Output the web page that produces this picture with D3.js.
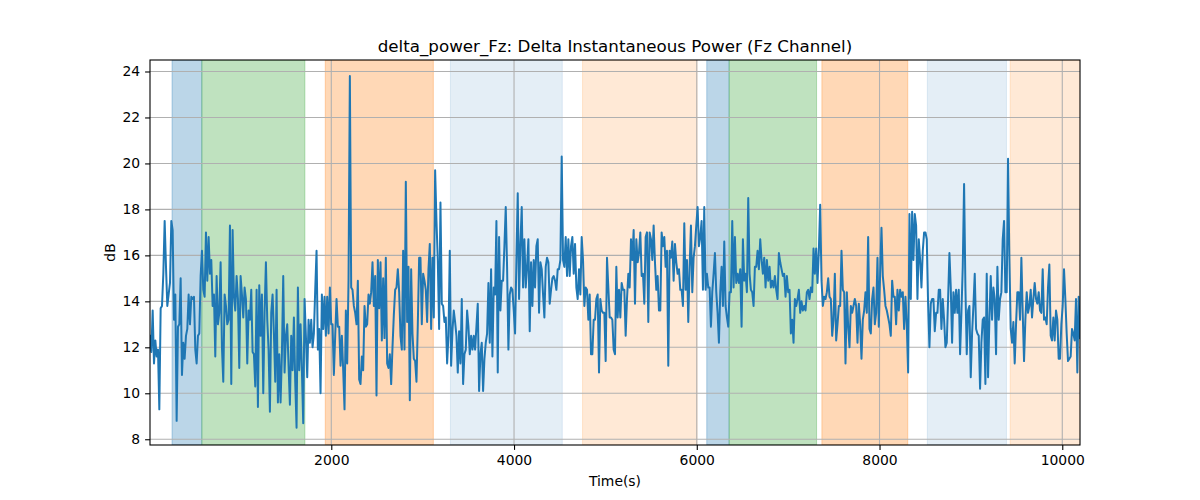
<!DOCTYPE html>
<html>
<head>
<meta charset="utf-8">
<script src="https://cdn.jsdelivr.net/npm/d3@7"></script>
<style>
  body { margin: 0; background: #fff; }
  svg text { font-family: "DejaVu Sans", sans-serif; fill: #000; }
</style>
</head>
<body>
<script>
// chart data
var titleText = "delta_power_Fz: Delta Instantaneous Power (Fz Channel)";
var xLabel = "Time(s)";
var yLabel = "dB";

// time range covered by the samples (evenly spaced)
var tStart = 16, tEnd = 10194;

// dB values, left to right
var dbValues = [
  12.5, 11.8, 13.6, 11.3, 12.3, 11.6, 11.9, 9.3, 13.7, 13.8,
  15.2, 17.5, 15.5, 13.8, 14.3, 14.8, 17.5, 17.1, 13.2, 14.3,
  8.8, 12.9, 13.0, 15.0, 10.8, 12.2, 11.5, 12.5, 12.8, 14.3,
  13.0, 14.2, 14.1, 14.2, 11.9, 11.3, 12.5, 12.6, 15.1, 16.2,
  14.5, 14.2, 17.0, 14.9, 16.8, 15.2, 15.8, 13.8, 14.3, 11.6,
  15.1, 13.0, 13.5, 15.7, 12.0, 10.5, 14.3, 13.8, 13.0, 13.2,
  17.3, 10.4, 17.1, 14.2, 13.6, 15.1, 14.1, 11.1, 15.1, 14.3,
  13.3, 14.6, 14.1, 11.3, 13.6, 13.2, 14.5, 11.8, 11.7, 10.3,
  14.5, 9.4, 14.7, 12.5, 14.3, 10.0, 13.5, 15.7, 13.2, 11.9,
  9.2, 13.5, 14.3, 12.6, 10.5, 14.5, 9.6, 11.7, 9.6, 11.7,
  // ~2000 s
  15.1, 10.9, 12.5, 13.0, 11.2, 9.5, 12.5, 11.0, 13.3, 10.5,
  8.5, 14.6, 11.0, 13.0, 11.0, 8.7, 14.1, 12.5, 10.7, 13.2,
  12.2, 13.2, 12.0, 12.6, 14.5, 16.2, 11.9, 12.8, 10.0, 14.3,
  12.8, 14.2, 12.5, 14.2, 12.6, 14.6, 13.0, 13.0, 10.8, 12.5,
  14.1, 12.9, 12.9, 11.2, 12.5, 11.0, 9.3, 13.6, 11.3, 14.9,
  23.8, 14.6, 14.5, 13.8, 13.5, 13.0, 14.9, 10.6, 10.4, 11.6,
  11.0, 13.8, 12.9, 13.0, 14.3, 13.9, 14.4, 15.7, 13.8, 15.1,
  9.9, 15.8, 13.7, 15.7, 12.3, 15.0, 12.4, 15.9, 11.3, 11.1,
  11.7, 10.4, 12.0, 13.4, 14.5, 14.6, 15.4, 14.4, 12.5, 11.9,
  16.2, 11.9, 19.2, 13.1, 15.5, 9.7, 15.4, 12.6, 11.5, 11.4,
  // ~3450 s
  10.5, 13.0, 15.9, 15.9, 13.0, 15.2, 14.9, 14.5, 13.1, 15.4,
  16.5, 12.8, 15.9, 13.3, 19.7, 17.5, 15.8, 12.8, 18.3, 13.9,
  13.8, 13.1, 13.3, 11.3, 12.5, 16.2, 11.2, 12.7, 13.6, 13.1,
  12.5, 10.9, 12.7, 11.3, 14.1, 10.4, 11.7, 11.9, 13.6, 12.9,
  11.7, 12.5, 11.9, 12.5, 11.9, 12.9, 13.9, 10.1, 11.7, 12.2,
  10.1, 11.5, 12.2, 12.6, 14.8, 12.2, 15.4, 11.6, 14.6, 14.3,
  17.5, 10.9, 16.8, 13.6, 14.9, 14.9, 16.4, 18.1, 15.5, 11.9,
  14.3, 14.6, 14.5, 13.6, 12.6, 15.8, 18.7, 14.1, 16.5, 18.1,
  14.6, 16.7, 14.6, 15.5, 16.7, 12.7, 15.7, 13.8, 15.8, 14.6,
  16.4, 16.7, 13.5, 15.7, 15.4, 14.3, 13.3, 15.5, 15.9, 15.7,
  // ~4900 s
  13.9, 14.5, 15.0, 15.1, 14.9, 14.5, 15.4, 15.4, 15.8, 20.3,
  15.8, 15.5, 16.8, 15.1, 16.7, 15.1, 16.4, 16.8, 15.2, 16.5,
  14.6, 14.1, 15.4, 14.3, 16.8, 15.8, 13.8, 14.6, 14.5, 13.2,
  14.3, 11.7, 11.7, 13.2, 13.2, 14.1, 14.3, 10.9, 14.1, 13.6,
  13.5, 13.5, 11.4, 15.9, 14.6, 13.3, 13.3, 13.2, 11.9, 11.7,
  15.5, 13.3, 14.5, 13.3, 14.8, 14.5, 14.5, 12.5, 14.1, 15.2,
  14.6, 16.7, 15.8, 17.1, 13.9, 16.7, 15.7, 16.1, 17.0, 15.1,
  15.2, 13.9, 16.8, 17.0, 13.1, 17.0, 16.7, 15.8, 17.3, 15.7,
  14.5, 15.1, 13.6, 13.6, 17.0, 16.4, 16.8, 15.5, 16.2, 11.2,
  16.2, 15.9, 16.6, 14.9, 16.5, 15.7, 15.2, 15.4, 14.5,
  // ~6000 s
  14.5, 13.8, 17.4, 14.5, 15.8, 13.1, 15.5, 17.3, 14.4, 15.9,
  16.4, 17.3, 18.1, 16.4, 16.8, 17.5, 14.5, 18.1, 14.5, 15.2,
  14.6, 14.6, 12.9, 14.4, 15.2, 16.1, 14.4, 13.5, 12.2, 14.4,
  15.5, 13.8, 16.6, 13.8, 13.3, 12.9, 14.4, 14.4, 17.5, 14.6,
  16.8, 14.8, 15.2, 14.8, 15.4, 12.9, 16.7, 14.9, 15.2, 14.4,
  18.5, 15.2, 14.5, 14.4, 13.8, 15.5, 15.5, 16.2, 15.4, 16.7,
  15.8, 15.2, 15.9, 14.6, 15.8, 14.9, 15.5, 14.6, 14.9, 14.6,
  15.1, 14.5, 14.1, 16.1, 15.7, 15.4, 15.1, 15.2, 14.2, 15.1,
  14.4, 14.5, 12.6, 13.2, 12.2, 14.1, 13.8, 14.1, 14.5, 13.5,
  14.0, 13.6, 13.8, 13.6, 14.4, 14.5, 14.1, 14.6, 14.4, 16.3,
  // ~7450 s
  15.2, 16.3, 14.8, 16.2, 18.2, 14.9, 13.8, 14.2, 14.1, 14.4,
  15.0, 14.2, 14.1, 12.5, 13.2, 15.2, 12.3, 13.0, 13.8, 13.8,
  16.2, 14.5, 14.4, 11.3, 14.4, 12.9, 12.0, 13.8, 13.5, 13.8,
  14.1, 13.8, 12.2, 13.9, 13.0, 11.5, 13.2, 13.6, 14.4, 13.5,
  16.8, 12.8, 12.6, 14.1, 14.6, 13.0, 13.5, 15.9, 12.9, 15.2,
  17.2, 15.1, 14.5, 13.8, 13.6, 13.3, 13.0, 12.5, 14.9, 14.2,
  14.2, 13.0, 14.5, 13.6, 14.5, 14.2, 14.4, 12.8, 14.2, 13.0,
  10.9, 17.8, 14.1, 17.9, 15.8, 17.8, 17.3, 14.1, 16.7, 15.8,
  14.6, 16.2, 17.0, 17.0, 16.7, 13.9, 12.0, 13.9, 14.1, 14.1,
  12.7, 13.5, 13.5, 14.5, 14.5, 12.8, 14.1, 13.2, 12.0, 12.2,
  // ~8900 s
  14.1, 16.1, 14.6, 12.2, 14.4, 13.5, 14.5, 13.5, 14.5, 11.7,
  13.5, 15.5, 19.1, 14.6, 11.7, 13.6, 13.8, 10.7, 12.6, 13.8,
  15.2, 12.8, 12.6, 12.5, 10.2, 12.2, 13.2, 13.3, 10.4, 15.2,
  10.7, 13.2, 15.1, 13.2, 14.6, 14.1, 11.7, 15.5, 13.2, 14.1,
  14.4, 16.7, 17.5, 14.4, 14.4, 20.2, 15.9, 12.8, 12.2, 13.1,
  11.3, 13.0, 14.4, 14.4, 13.2, 15.9, 13.5, 11.4, 13.2, 14.4,
  13.5, 13.8, 14.5, 13.3, 14.1, 14.8, 14.1, 13.9, 14.4, 13.6,
  13.5, 15.4, 13.2, 13.3, 13.0, 14.6, 15.6, 12.5, 12.3, 13.3,
  12.3, 13.6, 13.2, 11.5, 11.5, 13.0, 13.8, 15.4, 14.1, 12.6,
  11.4, 11.5, 11.6, 12.8, 12.6, 12.3, 14.1, 10.9, 14.2, 12.4
];

// shaded periods (seconds) and their kind
var spanStart = [257, 583, 1934, 3304, 4750, 6109, 6354, 7369, 8523, 9430];
var spanEnd   = [583, 1711, 3117, 4528, 6003, 6354, 7311, 8309, 9389, 10300];
var spanKind  = ["blue", "green", "orange", "lightblue", "lightorange",
                 "blue", "green", "orange", "lightblue", "lightorange"];

// tick values
var xTicks = [2000, 4000, 6000, 8000, 10000];
var yTicks = [8, 10, 12, 14, 16, 18, 20, 22, 24];

var kindStyle = {
  blue:        { color: "#1f77b4", alpha: 0.3 },
  green:       { color: "#2ca02c", alpha: 0.3 },
  orange:      { color: "#ff7f0e", alpha: 0.3 },
  lightblue:   { color: "#1f77b4", alpha: 0.12 },
  lightorange: { color: "#ff7f0e", alpha: 0.17 }
};

// set the dimensions and margins of the graph
var margin = {top: 60, right: 120, bottom: 55, left: 150},
    width = 1200 - margin.left - margin.right,
    height = 500 - margin.top - margin.bottom;

var n = dbValues.length;
var series = dbValues.map(function(v, i) {
  return { t: tStart + i * (tEnd - tStart) / (n - 1), v: v };
});

var x = d3.scaleLinear().domain([tStart, tEnd]).range([0, width]);
var y = d3.scaleLinear().domain([7.75, 24.5]).range([height, 0]);

var svg = d3.select("body").append("svg")
    .attr("width", 1200)
    .attr("height", 500);

var g = svg.append("g")
    .attr("transform", "translate(" + margin.left + "," + margin.top + ")");

g.append("clipPath").attr("id", "clip")
  .append("rect").attr("width", width).attr("height", height);

// shaded spans
var spans = spanStart.map(function(s, i) { return {s: s, e: spanEnd[i], k: spanKind[i]}; });
g.append("g").attr("clip-path", "url(#clip)")
  .selectAll("rect")
  .data(spans)
  .enter().append("rect")
    .attr("x", function(d) { return x(d.s); })
    .attr("width", function(d) { return x(d.e) - x(d.s); })
    .attr("y", 0)
    .attr("height", height)
    .attr("fill", function(d) { return kindStyle[d.k].color; })
    .attr("fill-opacity", function(d) { return kindStyle[d.k].alpha; })
    .attr("stroke", function(d) { return kindStyle[d.k].color; })
    .attr("stroke-opacity", function(d) { return kindStyle[d.k].alpha; })
    .attr("stroke-width", 1);

// grid
var grid = g.append("g");
grid.selectAll(".vg").data(xTicks).enter().append("line")
  .attr("x1", function(d) { return x(d); }).attr("x2", function(d) { return x(d); })
  .attr("y1", 0).attr("y2", height)
  .attr("stroke", "#b0b0b0").attr("stroke-width", 1.1);
grid.selectAll(".hg").data(yTicks).enter().append("line")
  .attr("y1", function(d) { return y(d); }).attr("y2", function(d) { return y(d); })
  .attr("x1", 0).attr("x2", width)
  .attr("stroke", "#b0b0b0").attr("stroke-width", 1.1);

// the line
var line = d3.line()
    .x(function(d) { return x(d.t); })
    .y(function(d) { return y(d.v); });

g.append("path")
  .datum(series)
  .attr("clip-path", "url(#clip)")
  .attr("fill", "none")
  .attr("stroke", "#1f77b4")
  .attr("stroke-width", 2)
  .attr("stroke-linejoin", "round")
  .attr("stroke-linecap", "square")
  .attr("d", line);

// axes
var xAxis = g.append("g")
  .attr("transform", "translate(0," + height + ")")
  .call(d3.axisBottom(x).tickValues(xTicks).tickSize(4.9).tickPadding(4.9).tickFormat(d3.format("d")));
var yAxis = g.append("g")
  .call(d3.axisLeft(y).tickValues(yTicks).tickSize(4.9).tickPadding(4.9).tickFormat(d3.format("d")));

[xAxis, yAxis].forEach(function(a) {
  a.select(".domain").remove();
  a.selectAll("line").attr("stroke", "#000").attr("stroke-width", 1.1);
  a.selectAll("text").attr("font-size", "13.9px").attr("font-family", "DejaVu Sans");
});

// frame
g.append("rect")
  .attr("width", width).attr("height", height)
  .attr("fill", "none").attr("stroke", "#000").attr("stroke-width", 1.1);

// labels
svg.append("text")
  .attr("x", margin.left + width / 2).attr("y", 52)
  .attr("text-anchor", "middle")
  .attr("font-size", "16.7px")
  .text(titleText);

svg.append("text")
  .attr("x", margin.left + width / 2).attr("y", 486)
  .attr("text-anchor", "middle")
  .attr("font-size", "13.9px")
  .text(xLabel);

svg.append("text")
  .attr("transform", "translate(115," + (margin.top + height / 2) + ") rotate(-90)")
  .attr("text-anchor", "middle")
  .attr("font-size", "13.9px")
  .text(yLabel);
</script>
</body>
</html>
